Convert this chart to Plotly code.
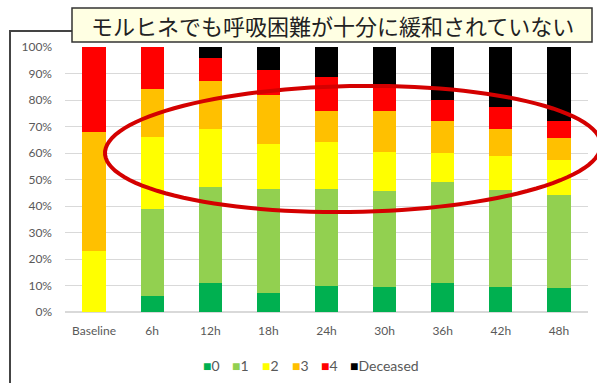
import numpy as np
import plotly.graph_objects as go

categories = ["Baseline", "6h", "12h", "18h", "24h", "30h", "36h", "42h", "48h"]
series_names = ["0", "1", "2", "3", "4", "Deceased"]
grade0 = [0, 6, 11, 7, 10, 9.5, 11, 9.5, 9]
grade1 = [0, 33, 36, 39.5, 36.5, 36, 38, 36.5, 35]
grade2 = [23, 27, 22, 17, 17.5, 15, 11, 13, 13.5]
grade3 = [45, 18, 18, 18.5, 12, 15.5, 12, 10, 8]
grade4 = [32, 16, 9, 9.5, 12.5, 8.5, 8, 8.5, 6.5]
deceased = [0, 0, 4, 8.5, 11.5, 15.5, 20, 22.5, 28]
y_ticks = [0, 10, 20, 30, 40, 50, 60, 70, 80, 90, 100]
y_tick_labels = ["0%", "10%", "20%", "30%", "40%", "50%", "60%", "70%", "80%", "90%", "100%"]
title_text = "モルヒネでも呼吸困難が十分に緩和されていない"

colors = ["#00B050", "#92D050", "#FFFF00", "#FFC000", "#FF0000", "#000000"]
series = [grade0, grade1, grade2, grade3, grade4, deceased]

W, H = 597, 383
L, R, T, B = 65, 9, 47, 71
pw, ph = W - L - R, H - T - B


def px(x):
    return (x - L) / pw


def py(y):
    return (H - B - y) / ph


fig = go.Figure()
for name, vals, col in zip(series_names, series, colors):
    fig.add_trace(go.Bar(x=categories, y=vals, name=name, marker=dict(color=col, line=dict(width=0)),
                         showlegend=False))

# ellipse highlight
t = np.linspace(0, 2 * np.pi, 120)
cx, cy, a, b, A = 353, 149, 248, 63, -4
ex = cx + a * np.cos(t)
ey = cy + A * np.cos(t) + b * np.sin(t)
path = "M " + " L ".join(f"{px(x):.4f},{py(y):.4f}" for x, y in zip(ex, ey)) + " Z"

shapes = [
    dict(type="path", xref="paper", yref="paper", path=path,
         line=dict(color="#D40000", width=4), fillcolor="rgba(0,0,0,0)", layer="above"),
    # outer frame
    dict(type="path", xref="paper", yref="paper",
         path=f"M {px(10)},{py(390)} L {px(10)},{py(31)} L {px(72)},{py(31)}",
         line=dict(color="#444444", width=2)),
    # title box
    dict(type="rect", xref="paper", yref="paper", x0=px(72), x1=px(592), y0=py(42), y1=py(8),
         fillcolor="#FFFFE3", line=dict(color="#333333", width=1.5), layer="above"),
]

annotations = [
    dict(text=title_text, xref="paper", yref="paper", x=px(332), y=py(25), showarrow=False,
         xanchor="center", yanchor="middle",
         font=dict(family="Noto Sans CJK JP", size=22, color="#222222")),
]

# legend row
leg_x = [201, 230, 260, 290, 319, 348]
for name, col, lx in zip(series_names, colors, leg_x):
    annotations.append(dict(
        text=f"<span style='color:{col}'>■</span>{name}", xref="paper", yref="paper",
        x=px(lx), y=py(365), xanchor="left", yanchor="middle", showarrow=False,
        font=dict(family="Lato", size=14, color="#595959")))

fig.update_layout(
    width=W, height=H,
    margin=dict(l=L, r=R, t=T, b=B),
    paper_bgcolor="white", plot_bgcolor="white",
    barmode="stack", bargap=0.6,
    shapes=shapes, annotations=annotations,
    xaxis=dict(tickfont=dict(family="Lato", size=12, color="#595959"), showgrid=False,
               showline=False, ticks="", ticklabelstandoff=10),
    yaxis=dict(range=[0, 100], tickvals=y_ticks, ticktext=y_tick_labels,
               tickfont=dict(family="Lato", size=12, color="#595959"),
               showgrid=True, gridcolor="#D9D9D9", gridwidth=1, zeroline=True,
               zerolinecolor="#D9D9D9", showline=False, ticks="", ticklabelstandoff=12),
)

fig.write_html("out.html")
